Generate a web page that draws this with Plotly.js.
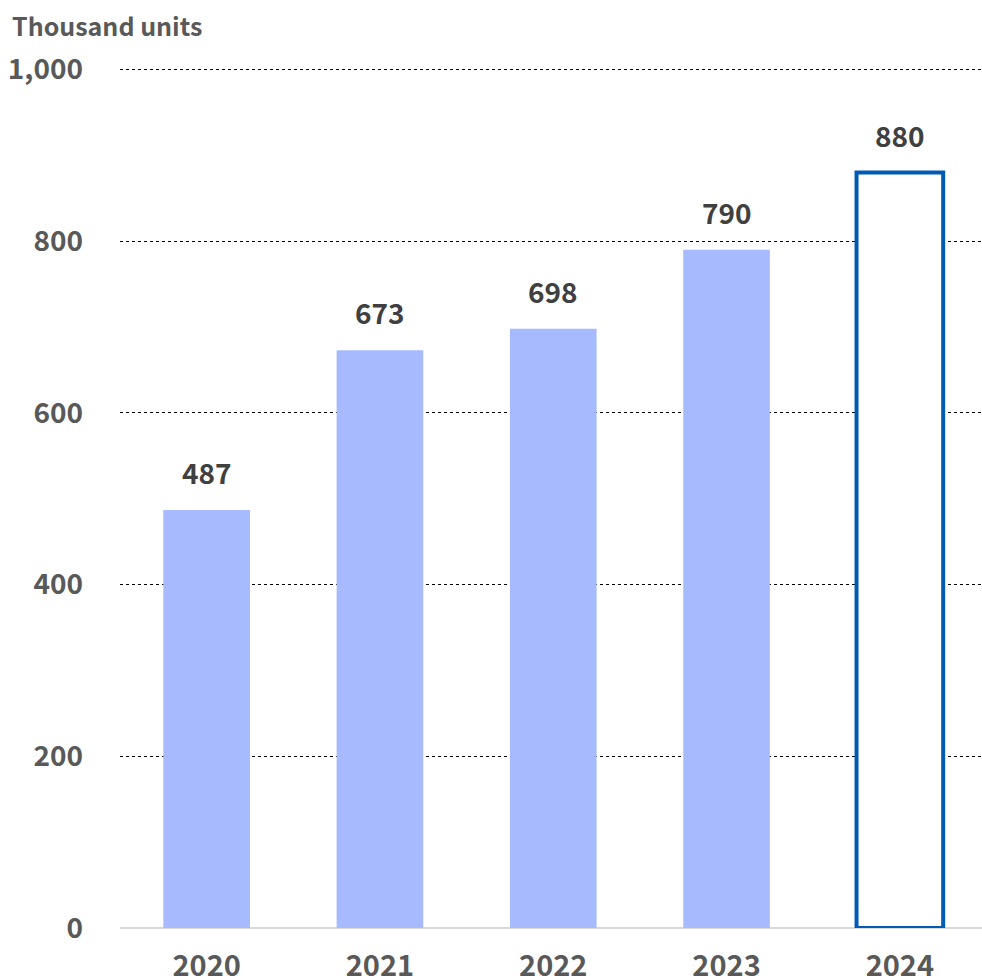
<!DOCTYPE html>
<html><head><meta charset="utf-8">
<script src="https://cdn.plot.ly/plotly-3.0.1.min.js"></script>
<style>html,body{margin:0;padding:0;background:#fff}#c{width:982px;height:979px}</style>
</head><body><div id="c"></div>
<script>
const years = ["2020","2021","2022","2023","2024"];
const units = [487, 673, 698, 790, 880];
const fillColors = ["#a7bafe","#a7bafe","#a7bafe","#a7bafe","#ffffff"];
const lineColors = ["#a7bafe","#a7bafe","#a7bafe","#a7bafe","#005bb5"];
const lineWidths = [0,0,0,0,4];
const yTicks = [0,200,400,600,800,1000];
const yTickText = ["0","200","400","600","800","1,000"];
const FONT = "Noto Sans CJK JP, Noto Sans, sans-serif";

const trace = {
  type: "bar", x: years, y: units, width: 0.5,
  marker: {color: fillColors, line: {color: lineColors, width: lineWidths}},
  hoverinfo: "none"
};
const annotations = years.map((yr, i) => ({
  x: i, y: units[i], xref: "x", yref: "y", text: String(units[i]),
  showarrow: false, yanchor: "bottom", yshift: 16,
  font: {family: FONT, size: 28, color: "#404040", weight: 700}
}));
annotations.push({
  text: "Thousand units", xref: "paper", yref: "paper", x: -0.128, y: 1.049,
  xanchor: "left", yanchor: "middle", showarrow: false,
  font: {family: FONT, size: 25, color: "#595959", weight: 700}
});
const layout = {
  width: 982, height: 979,
  margin: {l: 120, r: 0, t: 67, b: 51},
  paper_bgcolor: "#fff", plot_bgcolor: "#fff",
  showlegend: false,
  xaxis: {
    type: "category", range: [-0.5, 4.474], showgrid: false, zeroline: false,
    showline: false, ticks: "", ticklabelstandoff: 18,
    tickfont: {family: FONT, size: 29, color: "#595959", weight: 700}
  },
  yaxis: {
    range: [0, 1003], tickvals: yTicks, ticktext: yTickText,
    showgrid: true, gridcolor: "#000", gridwidth: 1, griddash: "dot",
    zeroline: true, zerolinecolor: "#d9d9d9", zerolinewidth: 2,
    showline: false, ticks: "", ticklabelstandoff: 36,
    tickfont: {family: FONT, size: 28, color: "#595959", weight: 700}
  },
  annotations: annotations
};
Plotly.newPlot("c", [trace], layout, {displayModeBar: false, staticPlot: true});
</script></body></html>
